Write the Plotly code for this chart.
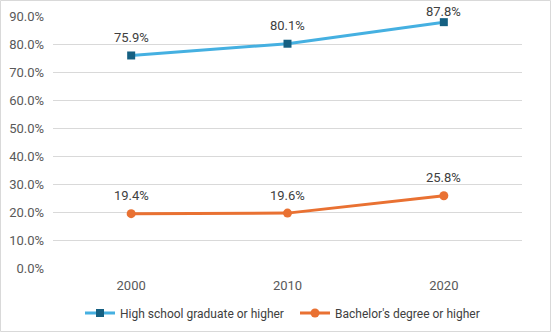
import plotly.graph_objects as go

years = ["2000", "2010", "2020"]
high_school = [75.9, 80.1, 87.8]
bachelors = [19.4, 19.6, 25.8]
y_ticks = [0, 10, 20, 30, 40, 50, 60, 70, 80, 90]
y_tick_labels = [f"{v:.1f}%" for v in y_ticks]

FONT = "Roboto"
W, H = 553, 334
L, R, T, B = 53, 31, 16, 66
pw, ph = W - L - R, H - T - B
YMAX = 90

fig = go.Figure()
fig.add_trace(go.Scatter(
    x=years, y=high_school, mode="lines+markers",
    name="High school graduate or higher",
    line=dict(color="#45B0E1", width=3),
    marker=dict(symbol="square", size=8, color="#156082"),
    cliponaxis=False,
))
fig.add_trace(go.Scatter(
    x=years, y=bachelors, mode="lines+markers",
    name="Bachelor's degree or higher",
    line=dict(color="#E97132", width=3),
    marker=dict(symbol="circle", size=9, color="#E97132"),
    cliponaxis=False,
))

annotations = []
for series in (high_school, bachelors):
    for i, v in enumerate(series):
        ypix = T + (YMAX - v) / YMAX * ph
        shift = min(18, ypix - 12)
        annotations.append(dict(x=i, y=v, xref="x", yref="y", text=f"{v:.1f}%",
                                showarrow=False, yshift=shift,
                                font=dict(family=FONT, size=13, color="#404040")))

def px(x):
    return (x - L) / pw

def py(y):
    return (H - B - y) / ph

fig.update_layout(
    width=W, height=H,
    margin=dict(l=L, r=R, t=T, b=B, autoexpand=False),
    paper_bgcolor="white", plot_bgcolor="white",
    font=dict(family=FONT, size=12, color="#595959"),
    showlegend=True,
    annotations=annotations,
    legend=dict(orientation="h", x=px(295), xanchor="center", y=py(313), yanchor="middle",
                font=dict(family=FONT, size=12, color="#404040"), itemwidth=30,
                entrywidth=170, entrywidthmode="pixels",
                tracegroupgap=0, bgcolor="rgba(0,0,0,0)"),
    xaxis=dict(type="category", range=[-0.5, 2.5], showgrid=False, showline=False,
               zeroline=False, ticks="", automargin=False, ticklabelstandoff=8,
               tickfont=dict(family=FONT, size=13, color="#595959")),
    yaxis=dict(range=[0, YMAX], tickvals=y_ticks, ticktext=y_tick_labels,
               showgrid=True, gridcolor="#D9D9D9", gridwidth=1, zeroline=False,
               showline=False, ticks="", ticklabelstandoff=8, automargin=False,
               tickfont=dict(family=FONT, size=13, color="#595959")),
    shapes=[dict(type="rect", xref="paper", yref="paper",
                 x0=px(0.5), x1=px(W - 2.5), y0=py(H - 2.5), y1=py(0.5),
                 line=dict(color="#D9D9D9", width=1), fillcolor="rgba(0,0,0,0)", layer="below")],
)
fig.write_html("out.html")
